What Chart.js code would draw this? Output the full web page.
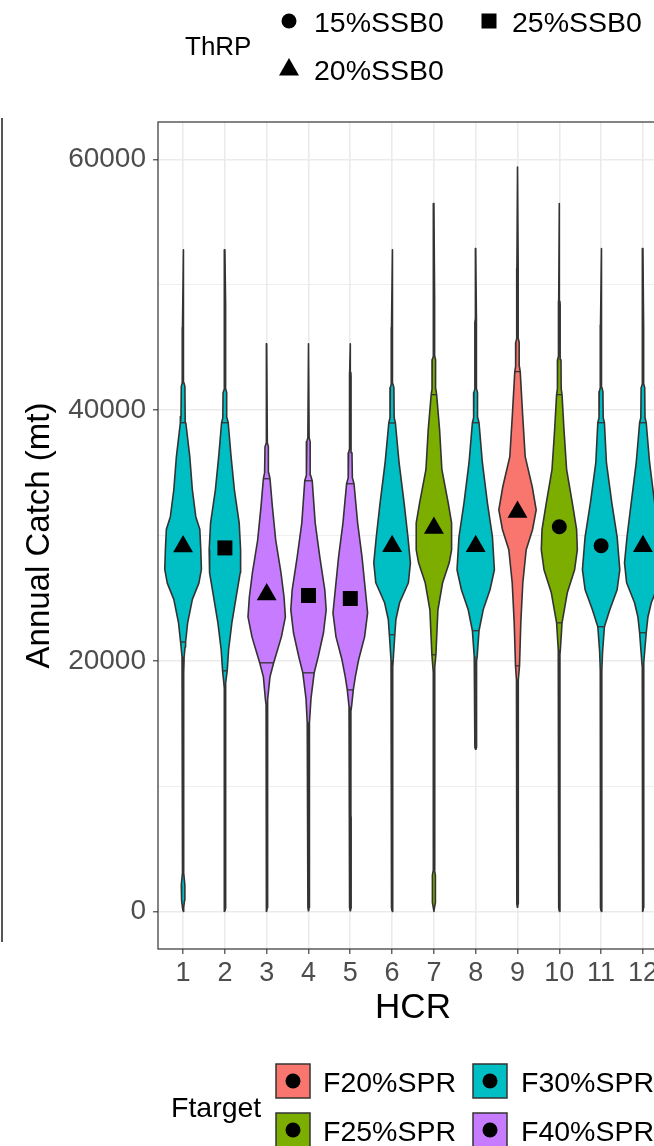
<!DOCTYPE html>
<html><head><meta charset="utf-8">
<script src="https://cdn.jsdelivr.net/npm/chart.js@4.4.1/dist/chart.umd.min.js"></script>
<style>
html,body{margin:0;padding:0;background:#fff;width:654px;height:1146px;overflow:hidden;font-family:"Liberation Sans",Arial,sans-serif;}
#wrap{position:absolute;left:0;top:0;width:680px;height:1146px;}
#edge{position:absolute;left:1px;top:118px;width:1.5px;height:824px;background:#555;}
.t{position:absolute;white-space:nowrap;color:#000;line-height:1;transform:translateY(-50%);}
.sym{position:absolute;}
</style></head><body>
<div id="wrap"><canvas id="c" width="680" height="1146"></canvas></div>
<div id="edge"></div>

<!-- ThRP legend -->
<div class="t" style="left:185px;top:46px;font-size:26px;">ThRP</div>
<svg class="sym" style="left:279px;top:11px" width="20" height="20"><circle cx="10" cy="10" r="7.5" fill="#000"/></svg>
<div class="t" style="left:314px;top:22px;font-size:28.5px;">15%SSB0</div>
<svg class="sym" style="left:479px;top:11px" width="20" height="20"><rect x="2.5" y="2.5" width="15" height="15" fill="#000"/></svg>
<div class="t" style="left:512px;top:22px;font-size:28.5px;">25%SSB0</div>
<svg class="sym" style="left:277px;top:56px" width="24" height="24"><polygon points="12,2 22,19.5 2,19.5" fill="#000"/></svg>
<div class="t" style="left:314px;top:70px;font-size:28.5px;">20%SSB0</div>

<!-- Ftarget legend -->
<div class="t" style="left:171px;top:1107px;font-size:28.5px;">Ftarget</div>
<svg class="sym" style="left:275px;top:1063px" width="37" height="37"><rect x="1" y="1" width="34" height="34" fill="#F8766D" stroke="#333" stroke-width="1.5"/><circle cx="18" cy="18" r="7.5" fill="#000"/></svg>
<div class="t" style="left:323px;top:1082px;font-size:28.5px;">F20%SPR</div>
<svg class="sym" style="left:472px;top:1063px" width="37" height="37"><rect x="1" y="1" width="34" height="34" fill="#00BFC4" stroke="#333" stroke-width="1.5"/><circle cx="18" cy="18" r="7.5" fill="#000"/></svg>
<div class="t" style="left:521px;top:1082px;font-size:28.5px;">F30%SPR</div>
<svg class="sym" style="left:275px;top:1112px" width="37" height="37"><rect x="1" y="1" width="34" height="34" fill="#7CAE00" stroke="#333" stroke-width="1.5"/><circle cx="18" cy="18" r="7.5" fill="#000"/></svg>
<div class="t" style="left:323px;top:1131px;font-size:28.5px;">F25%SPR</div>
<svg class="sym" style="left:472px;top:1112px" width="37" height="37"><rect x="1" y="1" width="34" height="34" fill="#C77CFF" stroke="#333" stroke-width="1.5"/><circle cx="18" cy="18" r="7.5" fill="#000"/></svg>
<div class="t" style="left:521px;top:1131px;font-size:28.5px;">F40%SPR</div>

<script>
// ---------- data ----------
const hcr = ['1','2','3','4','5','6','7','8','9','10','11','12'];
const ftarget = ['F30%SPR','F30%SPR','F40%SPR','F40%SPR','F40%SPR','F30%SPR','F25%SPR','F30%SPR','F20%SPR','F25%SPR','F30%SPR','F30%SPR'];
const thrp = ['20%SSB0','25%SSB0','20%SSB0','25%SSB0','25%SSB0','20%SSB0','20%SSB0','20%SSB0','20%SSB0','15%SSB0','15%SSB0','20%SSB0'];
const markerValue = [29120, 29010, 25300, 25210, 24970, 29140, 30600, 29140, 31880, 30700, 29180, 29140];
const qLow = [21500, 19200, 19840, 19040, 17680, 22080, 20480, 22400, 19600, 23030, 22720, 22240];
const qLowW = [0.06, 0.055, 0.167, 0.136, 0.072, 0.065, 0.048, 0.079, 0.048, 0.065, 0.079, 0.079];
const qHigh = [39000, 39000, 34530, 34370, 34130, 38980, 41240, 39000, 43080, 41240, 39000, 39000];
const qHighW = [0.065, 0.079, 0.079, 0.089, 0.089, 0.079, 0.065, 0.079, 0.065, 0.065, 0.079, 0.079];
const yMajor = [0, 20000, 40000, 60000];
const yMajorLabels = ['0', '20000', '40000', '60000'];
const yMinor = [10000, 30000, 50000];
// violin density profiles: [catch value, half width (HCR units)]
const violin1 = [[0,0],[300,0.014],[900,0.036],[2100,0.043],[3100,0.014],[5000,0.014],[12000,0.014],[19000,0.015],[20300,0.025],[21100,0.048],[21500,0.06],[23000,0.108],[24900,0.222],[26200,0.378],[27300,0.438],[28900,0.423],[30500,0.4],[31500,0.304],[33650,0.222],[36300,0.16],[39000,0.065],[39500,0.05],[41900,0.043],[42200,0.02],[46300,0.02],[46600,0.014],[52800,0]];
const violin2 = [[0,0],[300,0.02],[4100,0.02],[4400,0.014],[17800,0.014],[18240,0.025],[19200,0.055],[20880,0.089],[23030,0.167],[25110,0.27],[27020,0.366],[28860,0.376],[31010,0.342],[33650,0.227],[36290,0.148],[39000,0.079],[39400,0.05],[41400,0.043],[41700,0.02],[48270,0.02],[48500,0.014],[52800,0]];
const violin3 = [[0,0],[300,0.014],[16500,0.014],[16890,0.03],[18720,0.079],[19840,0.167],[20640,0.239],[21910,0.352],[23510,0.447],[25110,0.414],[27020,0.342],[29660,0.215],[32300,0.136],[34530,0.079],[35000,0.05],[37090,0.04],[37400,0.015],[45300,0]];
const violin4 = [[0,0],[300,0.014],[14700,0.014],[15050,0.03],[17000,0.06],[19040,0.136],[20320,0.232],[22240,0.359],[24070,0.423],[25670,0.39],[28300,0.27],[31010,0.16],[34370,0.089],[34800,0.05],[37490,0.04],[37800,0.015],[45300,0]];
const violin5 = [[0,0],[300,0.02],[7460,0.02],[7700,0.014],[16000,0.014],[16330,0.03],[17680,0.072],[18720,0.12],[20080,0.199],[21910,0.342],[23830,0.414],[25670,0.359],[28300,0.28],[31010,0.175],[34130,0.089],[34600,0.05],[36600,0.04],[36900,0.018],[42700,0.018],[43000,0.014],[45300,0]];
const violin6 = [[0,0],[300,0.014],[19500,0.015],[20000,0.025],[22080,0.065],[23300,0.091],[24630,0.179],[26230,0.39],[27820,0.438],[29900,0.378],[32610,0.287],[35810,0.167],[38980,0.079],[39400,0.05],[41800,0.043],[42100,0.02],[46300,0.02],[46600,0.014],[52800,0]];
const violin7 = [[0,0],[300,0.014],[700,0.036],[2900,0.036],[3300,0.014],[19100,0.015],[19520,0.025],[20480,0.048],[24070,0.096],[26230,0.208],[27820,0.366],[28860,0.423],[31010,0.423],[32610,0.342],[35250,0.191],[38440,0.136],[41240,0.065],[41700,0.045],[44030,0.04],[44300,0.02],[48660,0.02],[49000,0.014],[56500,0]];
const violin8 = [[12900,0],[13100,0.02],[20000,0.02],[20320,0.035],[22400,0.079],[24070,0.179],[25670,0.342],[27270,0.447],[29900,0.4],[32610,0.28],[35810,0.16],[39000,0.079],[39400,0.05],[41400,0.043],[41700,0.02],[47000,0.02],[47300,0.014],[52900,0]];
const violin9 = [[280,0],[600,0.014],[3000,0.014],[3300,0.025],[3700,0.014],[18000,0.015],[18480,0.025],[19600,0.048],[23030,0.079],[26230,0.127],[28860,0.208],[30460,0.359],[32050,0.447],[33890,0.352],[36290,0.184],[39800,0.12],[43080,0.065],[43500,0.045],[45400,0.04],[45700,0.02],[51000,0.018],[51300,0.014],[59400,0]];
const violin10 = [[0,0],[300,0.014],[20500,0.015],[20880,0.025],[23030,0.065],[25430,0.191],[27270,0.366],[28860,0.431],[30460,0.414],[32610,0.311],[35250,0.175],[38440,0.112],[41240,0.065],[41700,0.045],[44030,0.04],[44300,0.02],[48400,0.02],[48700,0.014],[56500,0]];
const violin11 = [[0,0],[300,0.014],[19000,0.015],[19200,0.02],[20720,0.035],[22720,0.079],[24070,0.208],[25670,0.383],[27270,0.447],[29900,0.383],[32610,0.256],[35810,0.127],[39000,0.079],[39400,0.05],[41480,0.043],[41800,0.02],[46500,0.02],[46800,0.014],[52900,0]];
const violin12 = [[0,0],[300,0.014],[19500,0.015],[19840,0.025],[22240,0.079],[23500,0.12],[24630,0.2],[26230,0.39],[27820,0.44],[29900,0.38],[32610,0.28],[35810,0.16],[39000,0.079],[39400,0.05],[41800,0.043],[42100,0.02],[46300,0.02],[46600,0.014],[52900,0]];
const profiles = [violin1, violin2, violin3, violin4, violin5, violin6, violin7, violin8, violin9, violin10, violin11, violin12];

// ---------- styles ----------
const fillColor = {'F20%SPR':'#F8766D','F25%SPR':'#7CAE00','F30%SPR':'#00BFC4','F40%SPR':'#C77CFF'};
const shapeOf = {'15%SSB0':'circle','20%SSB0':'triangle','25%SSB0':'rect'};
const radiusOf = {'15%SSB0':7.5,'20%SSB0':11.5,'25%SSB0':10.6};
const FONT = '"Liberation Sans", Arial, sans-serif';

const datasets = [];
['15%SSB0','20%SSB0','25%SSB0'].forEach(level => {
  const pts = [];
  hcr.forEach((h, i) => { if (thrp[i] === level) pts.push({x: i + 1, y: markerValue[i]}); });
  datasets.push({type:'scatter', data:pts, pointStyle:shapeOf[level], pointRadius:radiusOf[level],
    pointBackgroundColor:'#000', pointBorderColor:'#000', pointBorderWidth:0, showLine:false, order:0});
});
hcr.forEach((h, i) => {
  [[qLow[i], qLowW[i]], [qHigh[i], qHighW[i]]].forEach(([v, w]) => {
    datasets.push({type:'scatter', showLine:true, data:[{x:i+1-w, y:v},{x:i+1+w, y:v}],
      borderColor:'#333333', borderWidth:1.3, pointRadius:0, fill:false, order:1});
  });
});
profiles.forEach((p, i) => {
  const c = i + 1;
  const right = p.map(([v, w]) => ({x: c + w, y: v}));
  const left = p.slice().reverse().map(([v, w]) => ({x: c - w, y: v}));
  datasets.push({type:'scatter', showLine:true, data:right.concat(left), fill:'shape',
    backgroundColor:fillColor[ftarget[i]], borderColor:'#333333', borderWidth:1.6,
    borderJoinStyle:'round', pointRadius:0, tension:0, order:2});
});

const panelBorder = {
  id:'panelBorder',
  afterDraw(chart) {
    const {ctx, chartArea:a} = chart;
    ctx.save();
    ctx.strokeStyle = '#333333';
    ctx.lineWidth = 1.2;
    ctx.strokeRect(a.left, a.top, a.right - a.left, a.bottom - a.top);
    ctx.restore();
  }
};

new Chart(document.getElementById('c'), {
  type:'scatter',
  data:{datasets},
  plugins:[panelBorder],
  options:{
    responsive:false, animation:false, events:[], devicePixelRatio:1,
    layout:{padding:{left:0, top:122, right:12, bottom:117}},
    plugins:{legend:{display:false}, tooltip:{enabled:false}},
    scales:{
      x:{type:'linear', min:0.4, max:12.6,
        afterBuildTicks: s => { s.ticks = hcr.map((h, i) => ({value: i + 1})); },
        afterFit: s => { s.height = 80; },
        ticks:{autoSkip:false, maxRotation:0, padding:3, color:'#4D4D4D', font:{size:27, family:FONT},
          callback: v => hcr[Math.round(v) - 1]},
        grid:{color:'#EBEBEB', lineWidth:1.6, tickLength:5, tickColor:'#333333', tickWidth:1.1},
        border:{display:false},
        title:{display:true, text:'HCR', color:'#000', font:{size:35, family:FONT}, padding:{top:0, bottom:0}}
      },
      y:{type:'linear', min:-3000, max:63000,
        afterBuildTicks: s => { s.ticks = yMajor.concat(yMinor).sort((a, b) => a - b).map(v => ({value: v})); },
        afterFit: s => { s.width = 158; },
        ticks:{padding:7, color:'#4D4D4D', font:{size:28, family:FONT},
          callback: v => { const k = yMajor.indexOf(v); return k >= 0 ? yMajorLabels[k] : ''; }},
        grid:{color:'#EBEBEB',
          lineWidth: ctx => (ctx.tick && yMajor.includes(ctx.tick.value)) ? 1.6 : 0.8,
          tickLength:5,
          tickColor: ctx => (ctx.tick && yMajor.includes(ctx.tick.value)) ? '#333333' : 'rgba(0,0,0,0)',
          tickWidth:1.1},
        border:{display:false},
        title:{display:true, text:'Annual Catch (mt)', color:'#000', font:{size:33, family:FONT}, padding:{top:20, bottom:0}}
      }
    }
  }
});
</script>
</body></html>
